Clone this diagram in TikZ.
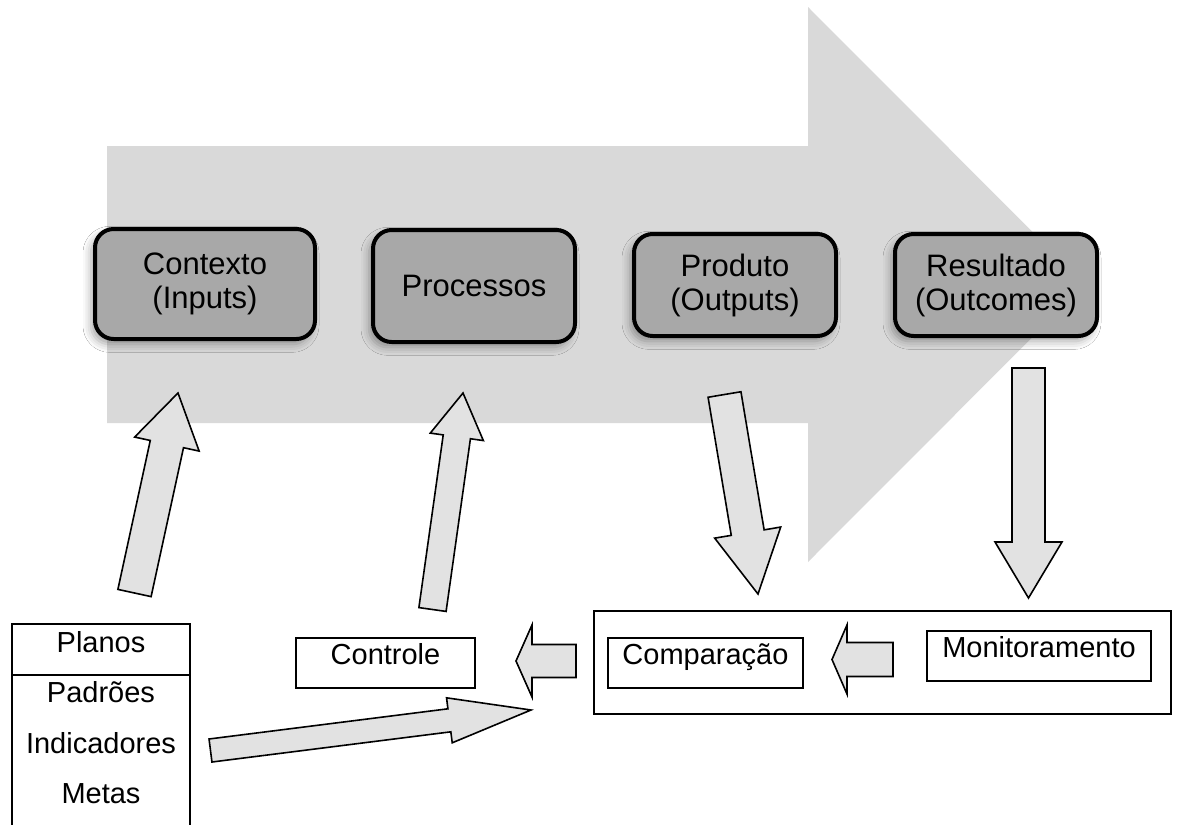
\documentclass[tikz,border=0pt]{standalone}
\usepackage{fontspec}
\setmainfont{Liberation Sans}
\usetikzlibrary{calc,shadows.blur}

\definecolor{bandgray}{HTML}{D9D9D9}
\definecolor{stagegray}{HTML}{A8A8A8}
\definecolor{arrowgray}{HTML}{E2E2E2}

\tikzset{
  stagebox/.style={draw=black, line width=3pt, fill=stagegray, rounded corners=14pt,
    align=center, inner sep=0pt,
    font=\fontsize{23.25}{25.5}\selectfont,
    blur shadow={shadow xshift=-3pt, shadow yshift=-4pt, shadow blur radius=6pt, shadow opacity=35}},
  plainbox/.style={draw=black, line width=1.5pt, fill=white, inner xsep=0pt, inner ysep=0pt,
    text height=19.5pt, text depth=18pt, font=\fontsize{21.75}{24}\selectfont},
  listtext/.style={anchor=base, inner sep=0pt, font=\fontsize{21.75}{24}\selectfont},
  blockarrow/.style={draw=black, line width=1.2pt, fill=arrowgray, line join=miter},
}

% block arrow: tail #1, tip #2, half shaft width #3, half head width #4, head length #5
\newcommand\blockarrow[5]{%
  \path ($(#2)!#5!(#1)$) coordinate (#2-base);
  \draw[blockarrow] ($(#1)!#3!90:(#2)$) -- ($(#2-base)!#3!90:(#2)$)
    -- ($(#2-base)!#4!90:(#2)$) -- (#2) -- ($(#2-base)!#4!-90:(#2)$)
    -- ($(#2-base)!#3!-90:(#2)$) -- ($(#1)!#3!-90:(#2)$) -- cycle;
}

\begin{document}
\begin{tikzpicture}[x=0.75pt, y=-0.75pt]
  \clip (0,0) rectangle (1179,825);
  \fill[white] (0,0) rectangle (1179,825);

  % large background arrow
  \fill[bandgray] (107,146) -- (808,146) -- (808,7) -- (1085,284.5)
    -- (808,562) -- (808,423) -- (107,423) -- cycle;

  % stages
  \node[stagebox, minimum width=165pt, minimum height=82.5pt] (contexto) at (205,284) {Contexto\\(Inputs)};
  \node[stagebox, minimum width=151.5pt, minimum height=84pt] (processos) at (474,286) {Processos};
  \node[stagebox, minimum width=151.5pt, minimum height=76.5pt] (produto) at (735,285) {Produto\\(Outputs)};
  \node[stagebox, minimum width=151.5pt, minimum height=76.5pt] (resultado) at (996,285) {Resultado\\(Outcomes)};

  % reference list at the lower left
  \draw[line width=1.5pt] (12,860) -- (12,624) -- (190,624) -- (190,860);
  \draw[line width=1.5pt] (12,675) -- (190,675);
  \node[listtext] (planos) at (101,652) {Planos};
  \node[listtext] (padroes) at (101,702) {Padrões};
  \node[listtext] (indicadores) at (101,753) {Indicadores};
  \node[listtext] (metas) at (101,803) {Metas};

  % control loop boxes
  \node[plainbox, minimum width=134.25pt, minimum height=37.5pt] (controle) at (385.5,663) {Controle};
  \node[draw=black, line width=1.5pt, minimum width=432.75pt, minimum height=77.25pt, inner sep=0pt] (avaliacao) at (882.5,662.5) {};
  \node[plainbox, minimum width=146.25pt, minimum height=37.5pt] (comparacao) at (705.5,663) {Comparação};
  \node[plainbox, minimum width=168pt, minimum height=37.5pt] (monitoramento) at (1039,656) {Monitoramento};

  % arrow end points
  \coordinate (ctxFrom) at (134.5,593);   \coordinate (ctxTo) at (178,393);
  \coordinate (procFrom) at (432.5,609.5); \coordinate (procTo) at (463,393);
  \coordinate (prodFrom) at (724.5,394.5); \coordinate (prodTo) at (758,594);
  \coordinate (resFrom) at (1028.5,368);  \coordinate (resTo) at (1028.5,598);
  \coordinate (cmpFrom) at (576,661);     \coordinate (cmpTo) at (516,661);
  \coordinate (monFrom) at (893,659.5);   \coordinate (monTo) at (832,659.5);
  \coordinate (listFrom) at (210.5,750.5); \coordinate (listTo) at (531,710);

  \blockarrow{ctxFrom}{ctxTo}{12.75pt}{24.75pt}{39.2pt}
  \blockarrow{procFrom}{procTo}{10.3pt}{20.1pt}{33.2pt}
  \blockarrow{prodFrom}{prodTo}{12.5pt}{25.1pt}{46.7pt}
  \blockarrow{resFrom}{resTo}{12.4pt}{25.1pt}{42pt}
  \blockarrow{cmpFrom}{cmpTo}{12.4pt}{27pt}{12pt}
  \blockarrow{monFrom}{monTo}{12.75pt}{25.9pt}{11.25pt}
  \blockarrow{listFrom}{listTo}{8.7pt}{17pt}{61.7pt}
\end{tikzpicture}
\end{document}
